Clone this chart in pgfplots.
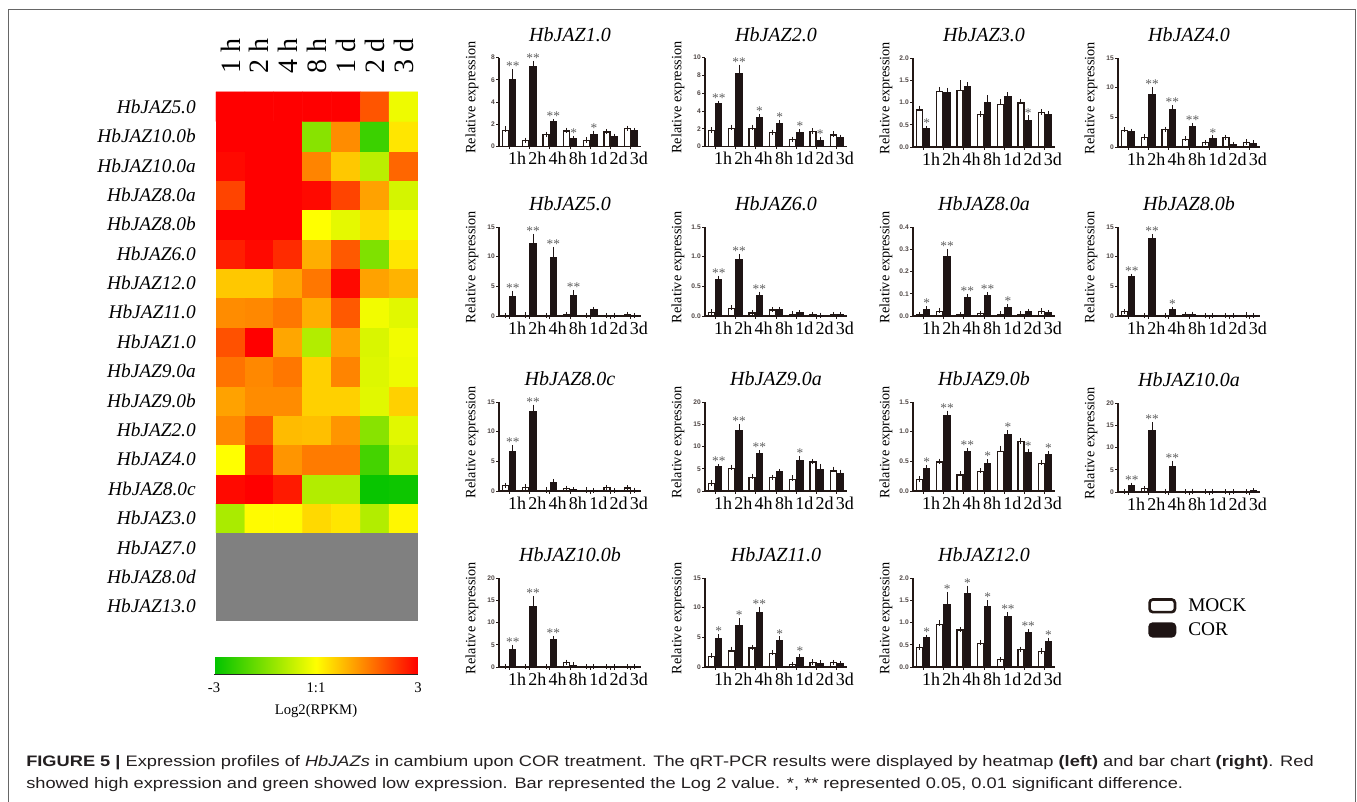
\documentclass[border=0pt]{standalone}
\usepackage{fontspec}
\setmainfont{Liberation Serif}
\setsansfont{Liberation Sans}
\newfontfamily\capfont[FakeStretch=1.2]{Liberation Sans}
\usepackage{pgfplots}
\usepackage{pgfplotstable}
\pgfplotsset{compat=1.18}

\definecolor{axcol}{RGB}{35,24,21}
\definecolor{barblack}{RGB}{30,20,20}
\definecolor{stargray}{RGB}{95,95,95}
\definecolor{capcol}{RGB}{35,31,32}

% heatmap: log2 values, rows from bottom (HbJAZ3.0, y=3) to top (HbJAZ5.0, y=17)
\pgfplotstableread[row sep=\\]{
x y v\\
0 3 -1.0\\ 1 3 0.05\\ 2 3 0.05\\ 3 3 0.45\\ 4 3 0.3\\ 5 3 -0.9\\ 6 3 0.1\\
0 4 2.9\\ 1 4 3\\ 2 4 2.7\\ 3 4 -0.9\\ 4 4 -0.9\\ 5 4 -2.9\\ 6 4 -2.85\\
0 5 0\\ 1 5 2.55\\ 2 5 1.25\\ 3 5 1.55\\ 4 5 1.55\\ 5 5 -2.2\\ 6 5 -0.6\\
0 6 1.4\\ 1 6 2.0\\ 2 6 0.8\\ 3 6 0.75\\ 4 6 1.25\\ 5 6 -1.4\\ 6 6 -0.35\\
0 7 1.1\\ 1 7 1.35\\ 2 7 1.35\\ 3 7 0.55\\ 4 7 0.55\\ 5 7 -0.35\\ 6 7 0.55\\
0 8 1.65\\ 1 8 1.4\\ 2 8 1.6\\ 3 8 0.55\\ 4 8 1.45\\ 5 8 -0.4\\ 6 8 -0.2\\
0 9 2.05\\ 1 9 3\\ 2 9 1.05\\ 3 9 -0.9\\ 4 9 1.1\\ 5 9 -0.45\\ 6 9 -0.15\\
0 10 1.35\\ 1 10 1.4\\ 2 10 1.6\\ 3 10 0.95\\ 4 10 1.95\\ 5 10 -0.15\\ 6 10 -0.35\\
0 11 0.65\\ 1 11 0.65\\ 2 11 1.05\\ 3 11 1.6\\ 4 11 2.9\\ 5 11 1.1\\ 6 11 0.9\\
0 12 2.65\\ 1 12 2.9\\ 2 12 2.5\\ 3 12 0.95\\ 4 12 1.95\\ 5 12 -1.5\\ 6 12 0.3\\
0 13 3\\ 1 13 3\\ 2 13 3\\ 3 13 0\\ 4 13 -0.3\\ 5 13 0.45\\ 6 13 -0.15\\
0 14 2.2\\ 1 14 3\\ 2 14 3\\ 3 14 2.9\\ 4 14 2.2\\ 5 14 1.1\\ 6 14 -0.5\\
0 15 2.9\\ 1 15 3\\ 2 15 3\\ 3 15 1.45\\ 4 15 0.65\\ 5 15 -0.8\\ 6 15 1.8\\
0 16 3\\ 1 16 3\\ 2 16 3\\ 3 16 -1.4\\ 4 16 1.35\\ 5 16 -2.3\\ 6 16 0.3\\
0 17 3\\ 1 17 3\\ 2 17 3\\ 3 17 3\\ 4 17 3\\ 5 17 2.0\\ 6 17 -0.2\\
}\heat

% bar data: x, MOCK mean/err, COR mean/err, stars over COR
\pgfplotstableread[row sep=\\]{x m me c ce s\\
0 1.43 0.15 6.0 0.7 2\\ 1 0.52 0.05 7.2 0.25 2\\ 2 1.05 0.05 2.2 0.05 2\\ 3 1.4 0.05 0.7 0.05 1\\
4 0.55 0.05 1.1 0.1 1\\ 5 1.3 0.05 0.9 0.03 0\\ 6 1.6 0.05 1.4 0.03 0\\}\tA
\pgfplotstableread[row sep=\\]{x m me c ce s\\
0 1.8 0.05 4.8 0.05 2\\ 1 2.0 0.15 8.15 0.75 2\\ 2 2.0 0.15 3.3 0.05 1\\ 3 1.55 0.05 2.6 0.05 1\\
4 0.75 0.05 1.6 0.05 1\\ 5 1.7 0.05 0.7 0.05 1\\ 6 1.3 0.1 1.0 0.03 0\\}\tB
\pgfplotstableread[row sep=\\]{x m me c ce s\\
0 0.83 0.04 0.41 0.01 1\\ 1 1.25 0.04 1.23 0.04 0\\ 2 1.27 0.17 1.35 0.05 0\\ 3 0.73 0.01 1.0 0.1 0\\
4 0.96 0.05 1.14 0.03 0\\ 5 0.99 0.03 0.59 0.06 1\\ 6 0.77 0.02 0.73 0.02 0\\}\tC
\pgfplotstableread[row sep=\\]{x m me c ce s\\
0 2.8 0.1 2.6 0.05 0\\ 1 1.6 0.1 8.8 0.8 2\\ 2 2.9 0.1 6.3 0.3 2\\ 3 1.3 0.1 3.5 0.1 2\\
4 0.7 0.05 1.4 0.1 1\\ 5 1.6 0.05 0.35 0.05 0\\ 6 0.8 0.05 0.6 0.05 0\\}\tD
\pgfplotstableread[row sep=\\]{x m me c ce s\\
0 0.1 0.02 3.2 0.6 2\\ 1 0.15 0.02 12.2 1.2 2\\ 2 0.05 0.02 9.9 1.3 2\\ 3 0.25 0.05 3.4 0.5 2\\
4 0.1 0.02 1.1 0.05 0\\ 5 0.05 0.02 0.1 0.02 0\\ 6 0.25 0.05 0.05 0.02 0\\}\tE
\pgfplotstableread[row sep=\\]{x m me c ce s\\
0 0.06 0.01 0.61 0.02 2\\ 1 0.13 0.01 0.95 0.05 2\\ 2 0.05 0.01 0.35 0.01 2\\ 3 0.1 0.01 0.1 0.01 0\\
4 0.03 0.005 0.05 0.005 0\\ 5 0.02 0.005 0.01 0.002 0\\ 6 0.02 0.005 0.02 0.005 0\\}\tF
\pgfplotstableread[row sep=\\]{x m me c ce s\\
0 0.005 0.001 0.03 0.002 1\\ 1 0.022 0.002 0.265 0.025 2\\ 2 0.006 0.001 0.083 0.005 2\\ 3 0.01 0.002 0.093 0.002 2\\
4 0.008 0.001 0.038 0.003 1\\ 5 0.008 0.001 0.02 0.001 0\\ 6 0.02 0.002 0.015 0.001 0\\}\tG
\pgfplotstableread[row sep=\\]{x m me c ce s\\
0 0.7 0.05 6.6 0.1 2\\ 1 0.05 0.01 13.0 0.4 2\\ 2 0.1 0.02 1.0 0.1 1\\ 3 0.25 0.05 0.25 0.05 0\\
4 0.05 0.01 0.05 0.01 0\\ 5 0.05 0.01 0.03 0.01 0\\ 6 0.15 0.02 0.05 0.01 0\\}\tH
\pgfplotstableread[row sep=\\]{x m me c ce s\\
0 0.9 0.05 6.7 0.6 2\\ 1 0.6 0.05 13.4 0.7 2\\ 2 0.15 0.02 1.5 0.1 0\\ 3 0.4 0.05 0.2 0.02 0\\
4 0.15 0.02 0.08 0.01 0\\ 5 0.55 0.05 0.02 0.01 0\\ 6 0.5 0.05 0.1 0.01 0\\}\tI
\pgfplotstableread[row sep=\\]{x m me c ce s\\
0 1.7 0.1 5.4 0.1 2\\ 1 5.1 0.2 13.5 1.0 2\\ 2 3.0 0.3 8.5 0.1 2\\ 3 3.0 0.1 4.3 0.1 0\\
4 2.6 0.3 6.8 0.5 1\\ 5 6.5 0.1 4.8 0.7 0\\ 6 4.5 0.4 3.8 0.4 0\\}\tJ
\pgfplotstableread[row sep=\\]{x m me c ce s\\
0 0.19 0.01 0.38 0.01 1\\ 1 0.49 0.01 1.27 0.04 2\\ 2 0.27 0.02 0.66 0.02 2\\ 3 0.33 0.01 0.47 0.02 1\\
4 0.67 0.05 0.95 0.03 1\\ 5 0.83 0.01 0.65 0.02 1\\ 6 0.47 0.01 0.61 0.02 1\\}\tK
\pgfplotstableread[row sep=\\]{x m me c ce s\\
0 0.1 0.02 1.4 0.1 2\\ 1 0.7 0.1 13.9 1.2 2\\ 2 0.15 0.02 5.8 0.6 2\\ 3 0.05 0.01 0.15 0.02 0\\
4 0.1 0.01 0.1 0.01 0\\ 5 0.05 0.01 0.05 0.01 0\\ 6 0.05 0.01 0.25 0.03 0\\}\tL
\pgfplotstableread[row sep=\\]{x m me c ce s\\
0 0.1 0.02 4.0 0.4 2\\ 1 0.05 0.01 13.5 1.9 2\\ 2 0.1 0.02 6.1 0.3 2\\ 3 1.0 0.05 0.4 0.05 0\\
4 0.05 0.01 0.05 0.01 0\\ 5 0.05 0.01 0.02 0.01 0\\ 6 0.05 0.01 0.05 0.01 0\\}\tM
\pgfplotstableread[row sep=\\]{x m me c ce s\\
0 1.8 0.1 4.8 0.3 1\\ 1 2.7 0.3 7.0 0.8 1\\ 2 3.2 0.1 9.1 0.6 2\\ 3 2.3 0.1 4.5 0.2 1\\
4 0.4 0.05 1.6 0.2 1\\ 5 0.8 0.05 0.6 0.05 0\\ 6 0.7 0.05 0.55 0.05 0\\}\tN
\pgfplotstableread[row sep=\\]{x m me c ce s\\
0 0.44 0.01 0.66 0.01 1\\ 1 0.96 0.03 1.4 0.23 1\\ 2 0.83 0.01 1.65 0.12 1\\ 3 0.53 0.02 1.36 0.08 1\\
4 0.16 0.01 1.14 0.03 2\\ 5 0.39 0.01 0.78 0.01 2\\ 6 0.34 0.02 0.56 0.04 1\\}\tO

\pgfplotsset{
  panel/.style={
    width=106.5pt, height=66.75pt, scale only axis, anchor=south west,
    xmin=-0.5, xmax=6.5, ymin=0, clip=false,
    axis x line*=bottom, axis y line*=left,
    axis line style={-, line width=0.8pt, draw=axcol},
    tick align=outside, major tick length=2pt,
    tick style={line width=0.6pt, draw=axcol},
    xtick={0,...,6}, xticklabels={1h,2h,4h,8h,1d,2d,3d},
    xticklabel style={font=\fontsize{13.5}{13.5}\selectfont, text=black, anchor=north, inner sep=0pt, xshift=6pt, yshift=-2pt},
    /pgf/number format/assume math mode=true,
    yticklabel style={font=\sffamily\bfseries\fontsize{5}{5}\selectfont, text=axcol!80, inner sep=1pt},
    title style={font=\itshape\fontsize{15}{15}\selectfont, at={(0.5,1)}, anchor=base, yshift=6pt, inner sep=0pt},
    ylabel={Relative expression},
    every axis y label/.style={at={(axis description cs:-0.19,0.55)}, rotate=90, anchor=center, font=\fontsize{10.7}{10.7}\selectfont},
  },
  decimal/.style={yticklabel style={/pgf/number format/.cd, fixed, fixed zerofill, precision=1}},
  mockbar/.style={ybar, bar width=4.5pt, bar shift=0pt, fill=white, draw=axcol, line width=0.9pt, forget plot,
    error bars/.cd, y dir=plus, y explicit,
    error bar style={line width=0.7pt, draw=axcol},
    error mark options={draw=axcol, line width=0.7pt, mark size=2pt}},
  corbar/.style={ybar, bar width=4.5pt, bar shift=0pt, fill=barblack, draw=barblack, line width=0.9pt, forget plot,
    error bars/.cd, y dir=plus, y explicit,
    error bar style={line width=0.7pt, draw=barblack},
    error mark options={draw=barblack, line width=0.7pt, mark size=2pt}},
  stars/.style={draw=none, mark=none, forget plot, point meta=explicit symbolic,
    nodes near coords={\ifcase\pgfplotspointmeta\relax\or*\or**\fi},
    every node near coord/.append style={font=\fontsize{10}{10}\selectfont, text=stargray, anchor=south, inner sep=0.6pt}},
}

\newcommand{\barpanel}[8]{%
\begin{axis}[panel, at={(#1pt,#2pt)}, title={#3}, ymax=#4, ytick={#5}, #7]
\addplot[mockbar] table[x expr=\thisrow{x}-0.18, y=m, y error=me] {#6};
\addplot[corbar] table[x expr=\thisrow{x}+0.18, y=c, y error=ce] {#6};
\addplot[stars] table[x expr=\thisrow{x}+0.18, y expr=\thisrow{c}+\thisrow{ce}, meta=s] {#6};
#8
\end{axis}}

\begin{document}
\begin{tikzpicture}
\path[use as bounding box] (0pt,0pt) rectangle (1017.75pt,-601.5pt);
\draw[black!60, line width=0.7pt] (6pt,-610pt) -- (6pt,-6.75pt) -- (1016.25pt,-6.75pt) -- (1016.25pt,-610pt);

% heatmap
\begin{axis}[at={(162pt,-69pt)}, anchor=north west,
  width=151.5pt, height=396.75pt, scale only axis,
  xmin=-0.5, xmax=6.5, ymin=-0.5, ymax=17.5, enlargelimits=false,
  axis line style={draw=none}, major tick length=0pt,
  xtick={0,...,6}, xticklabels={1 h,2 h,4 h,8 h,1 d,2 d,3 d}, xticklabel pos=upper,
  xticklabel style={rotate=90, anchor=west, font=\fontsize{21}{21}\selectfont, inner sep=0pt},
  xticklabel shift=14pt,
  ytick={0,...,17},
  yticklabels={HbJAZ13.0,HbJAZ8.0d,HbJAZ7.0,HbJAZ3.0,HbJAZ8.0c,HbJAZ4.0,HbJAZ2.0,HbJAZ9.0b,HbJAZ9.0a,HbJAZ1.0,HbJAZ11.0,HbJAZ12.0,HbJAZ6.0,HbJAZ8.0b,HbJAZ8.0a,HbJAZ10.0a,HbJAZ10.0b,HbJAZ5.0},
  yticklabel style={font=\itshape\fontsize{14.5}{14.5}\selectfont, anchor=east, inner sep=0pt},
  yticklabel shift=15pt,
  colormap={gyr}{rgb255=(0,195,0) rgb255=(255,255,0) rgb255=(255,0,0)},
  point meta min=-3, point meta max=3,
  colorbar horizontal,
  colorbar style={at={(parent axis.south west)}, anchor=north west, xshift=-1.5pt, yshift=-18.75pt,
    width=153pt, height=12.75pt, scale only axis,
    xtick={-3,0,3}, xticklabels={-3,1:1,3}, major tick length=0pt,
    axis line style={draw=none},
    xticklabel style={font=\fontsize{11}{11}\selectfont, anchor=north, inner sep=0pt},
    xticklabel shift=6pt,
    xlabel={Log2(RPKM)},
    xlabel style={at={(axis description cs:0.5,0)}, anchor=center, yshift=-27.75pt, font=\fontsize{11}{11}\selectfont},
    extra description/.code={\draw[black!85, line width=1.2pt] (axis description cs:0,0) -- (axis description cs:1,0);}},
]
\addplot[matrix plot*, mesh/cols=7, point meta=explicit] table[x=x, y=y, meta=v] {\heat};
\addplot[fill=gray, draw=none, mark=none, forget plot] coordinates {(-0.5,-0.5) (6.5,-0.5) (6.5,2.5) (-0.5,2.5)};
\end{axis}

% bar charts
\barpanel{374.25}{-109.9}{HbJAZ1.0}{8}{0,2,4,6,8}{\tA}{}{}
\barpanel{528.75}{-109.9}{HbJAZ2.0}{10}{0,2,4,6,8,10}{\tB}{}{}
\barpanel{684.75}{-110.25}{HbJAZ3.0}{2}{0,0.5,1,1.5,2}{\tC}{decimal}{}
\barpanel{838.5}{-110.25}{HbJAZ4.0}{15}{0,5,10,15}{\tD}{}{}

\barpanel{374.25}{-237}{HbJAZ5.0}{15}{0,5,10,15}{\tE}{}{}
\barpanel{528.75}{-237}{HbJAZ6.0}{1.5}{0,0.5,1,1.5}{\tF}{decimal}{}
\barpanel{684.75}{-237}{HbJAZ8.0a}{0.4}{0,0.1,0.2,0.3,0.4}{\tG}{decimal}{}
\barpanel{838.5}{-237}{HbJAZ8.0b}{15}{0,5,10,15}{\tH}{}{}

\barpanel{374.25}{-368.25}{HbJAZ8.0c}{15}{0,5,10,15}{\tI}{}{}
\barpanel{528.75}{-368.25}{HbJAZ9.0a}{20}{0,5,10,15,20}{\tJ}{}{}
\barpanel{684.75}{-368.25}{HbJAZ9.0b}{1.5}{0,0.5,1,1.5}{\tK}{decimal}{}
\barpanel{838.5}{-369}{HbJAZ10.0a}{20}{0,5,10,15,20}{\tL}{}{}

\barpanel{374.25}{-500.25}{HbJAZ10.0b}{20}{0,5,10,15,20}{\tM}{}{}
\barpanel{528.75}{-500.25}{HbJAZ11.0}{15}{0,5,10,15}{\tN}{}{}
\barpanel{684.75}{-500.25}{HbJAZ12.0}{2}{0,0.5,1,1.5,2}{\tO}{decimal,
  legend style={at={(1.655,0.80)}, anchor=north west, draw=none, fill=none,
    font=\fontsize{14.5}{14.5}\selectfont, row sep=3pt, inner sep=0pt,
    nodes={inner sep=2pt},
    /tikz/every odd column/.append style={column sep=7pt}},
  legend cell align=left}{%
\addlegendimage{legend image code/.code={\draw[draw=axcol, line width=2pt, fill=white, rounded corners=2.5pt] (0pt,-4.5pt) rectangle (19pt,5pt);}}
\addlegendentry{MOCK}
\addlegendimage{legend image code/.code={\draw[draw=barblack, line width=2pt, fill=barblack, rounded corners=2.5pt] (0pt,-4.5pt) rectangle (19pt,5pt);}}
\addlegendentry{COR}}

% caption
\node[anchor=base west, inner sep=0pt, text=capcol, font=\capfont\fontsize{11.4}{11.4}\selectfont] at (19.5pt,-575pt)
  {\textbf{FIGURE 5 |} Expression profiles of \textit{HbJAZs} in cambium upon COR treatment. The qRT-PCR results were displayed by heatmap \textbf{(left)} and bar chart \textbf{(right)}. Red};
\node[anchor=base west, inner sep=0pt, text=capcol, font=\capfont\fontsize{11.4}{11.4}\selectfont] at (19.5pt,-591.2pt)
  {showed high expression and green showed low expression. Bar represented the Log 2 value. *, ** represented 0.05, 0.01 significant difference.};
\end{tikzpicture}
\end{document}
